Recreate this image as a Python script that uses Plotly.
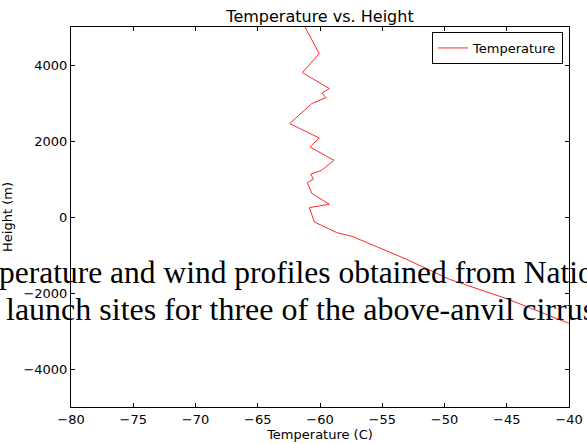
import plotly.graph_objects as go

# Data
temperature_c = [-61.7, -60.06, -61.42, -59.25, -59.84, -59.52, -60.67, -62.43, -60.06, -60.8,
                 -58.88, -59.87, -60.75, -60.51, -61.02, -60.64, -59.25, -60.86, -60.45, -58.66,
                 -57.43, -53.0, -49.6, -45.0, -40.0, -35.0]
height_m = [5300, 4300, 3800, 3380, 3263, 3142, 2984, 2458, 2079, 1842,
            1492, 1229, 1124, 1000, 905, 616, 334, 247, -132, -410,
            -508, -1120, -1640, -2150, -2800, -3430]

x_ticks = [-80, -75, -70, -65, -60, -55, -50, -45, -40]
y_ticks = [-4000, -2000, 0, 2000, 4000]

overlay_line1 = "perature and wind profiles obtained from Natio"
overlay_line2 = "launch sites for three of the above-anvil cirrus"

W, H = 587, 444
L, R, T, B = 71, 18, 27, 37
pw, ph = W - L - R, H - T - B


def px_x(p):
    return (p - L) / pw


def px_y(p):
    return (H - B - p) / ph


fig = go.Figure()
fig.add_trace(go.Scatter(
    x=temperature_c, y=height_m, mode="lines", name="Temperature",
    line=dict(color="#ff2a2a", width=1),
))

axis_common = dict(
    showgrid=False, zeroline=False, showline=True, linecolor="black", linewidth=1,
    mirror="ticks", ticks="inside", ticklen=4, tickwidth=1, tickcolor="black",
    automargin=False,
    tickfont=dict(family="DejaVu Sans", size=13, color="black"),
)

fig.update_layout(
    width=W, height=H,
    margin=dict(l=L, r=R, t=T, b=B, pad=0, autoexpand=False),
    paper_bgcolor="white", plot_bgcolor="white",
    font=dict(family="DejaVu Sans", size=13, color="black"),
    title=dict(text="Temperature vs. Height", x=0.5, xanchor="center",
               xref="paper", y=(H - 16) / H, yanchor="middle", yref="container",
               font=dict(family="DejaVu Sans", size=16, color="black")),
    xaxis=dict(range=[-80, -40], tickmode="array", tickvals=x_ticks,
               title=dict(text="Temperature (C)", standoff=2,
                          font=dict(family="DejaVu Sans", size=13, color="black")),
               **axis_common),
    yaxis=dict(range=[-5000, 5000], tickmode="array", tickvals=y_ticks,
               title=dict(text="Height (m)", standoff=8,
                          font=dict(family="DejaVu Sans", size=13, color="black")),
               **axis_common),
    showlegend=True,
    legend=dict(x=px_x(563), y=px_y(32), xanchor="right", yanchor="top",
                bordercolor="black", borderwidth=1, bgcolor="white",
                tracegroupgap=0,
                font=dict(family="DejaVu Sans", size=13, color="black")),
)

fig.add_annotation(text=overlay_line1, xref="paper", yref="paper",
                   x=px_x(-3), y=px_y(272), xanchor="left", yanchor="middle",
                   showarrow=False,
                   font=dict(family="Liberation Serif", size=31.5, color="black"))
fig.add_annotation(text=overlay_line2, xref="paper", yref="paper",
                   x=px_x(4), y=px_y(308.5), xanchor="left", yanchor="middle",
                   showarrow=False,
                   font=dict(family="Liberation Serif", size=32, color="black"))

fig.write_html("out.html")
